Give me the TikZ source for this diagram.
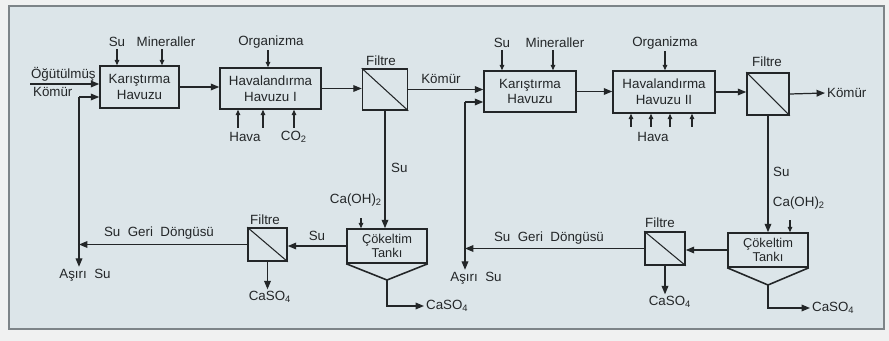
\documentclass[tikz,border=0pt]{standalone}
\usepackage{fontspec}
\setmainfont{Liberation Sans}
\usetikzlibrary{arrows.meta}
\definecolor{panel}{RGB}{220,229,233}
\definecolor{outer}{RGB}{240,241,241}
\definecolor{ink}{RGB}{35,38,40}
\definecolor{frameline}{RGB}{125,132,136}
\begin{document}
\begin{tikzpicture}[x=0.02cm,y=-0.02cm,
  font=\fontsize{7.6}{9}\selectfont, text=ink,
  box/.style={draw=ink, line width=0.9pt, align=center, inner sep=1pt},
  tankbox/.style={draw=ink, line width=0.9pt, align=center, inner sep=1pt, font=\fontsize{7.3}{8}\selectfont},
  outline/.style={draw=ink, line width=0.9pt, line join=miter},
  filt/.style={draw=ink, line width=0.9pt, inner sep=0pt},
  arr/.style={draw=ink, line width=0.7pt, -{Triangle[length=4.8pt,width=3.8pt]}},
  sarr/.style={draw=ink, line width=0.6pt, -{Triangle[length=3pt,width=2.6pt]}},
  ln/.style={draw=ink, line width=0.7pt},
  lbl/.style={inner sep=1pt},
]
% page and panel
\fill[outer] (0,0) rectangle (889,341);
\useasboundingbox (0,0) rectangle (889,341);
\filldraw[fill=panel, draw=frameline, line width=0.6pt] (9,6) rectangle (884,329);

% ---------- main boxes ----------
\node[box, minimum width=1.58cm, minimum height=0.84cm] (mix1) at (139.5,87) {Karıştırma\\Havuzu};
\node[box, minimum width=2.02cm, minimum height=0.82cm] (aer1) at (270.5,88.5) {Havalandırma\\Havuzu I};
\node[filt, minimum width=0.9cm, minimum height=0.82cm] (f1) at (385,89.5) {};
\node[box, minimum width=1.84cm, minimum height=0.82cm] (mix2) at (530,91.5) {Karıştırma\\Havuzu};
\node[box, minimum width=2.04cm, minimum height=0.84cm] (aer2) at (664,92) {Havalandırma\\Havuzu II};
\node[filt, minimum width=0.84cm, minimum height=0.84cm] (f3) at (768,94) {};
\node[tankbox, minimum width=1.6cm, minimum height=0.68cm] (tank1) at (387,246) {Çökeltim\\Tankı};
\node[filt, minimum width=0.78cm, minimum height=0.66cm] (f2) at (267.5,244.5) {};
\node[tankbox, minimum width=1.6cm, minimum height=0.68cm] (tank2) at (768,250) {Çökeltim\\Tankı};
\node[filt, minimum width=0.8cm, minimum height=0.66cm] (f4) at (665,248.5) {};

\foreach \f in {f1,f2,f3,f4} \draw[ink, line width=0.6pt] (\f.north west) -- (\f.south east);

\coordinate (t1tip) at (387,280);
\coordinate (t2tip) at (768,285);
\draw[outline] (tank1.south west) -- (t1tip) -- (tank1.south east);
\draw[outline] (tank2.south west) -- (t2tip) -- (tank2.south east);

% ---------- labels ----------
\node[lbl] (su1) at (117,42) {Su};
\node[lbl] (min1) at (166,42) {Mineraller};
\node[lbl] (org1) at (271,42) {Organizma};
\node[lbl] (su3) at (502,43) {Su};
\node[lbl] (min2) at (555,43) {Mineraller};
\node[lbl] (org2) at (665,43) {Organizma};
\node[lbl, anchor=west] (ogut) at (29,74) {Öğütülmüş};
\node[lbl, anchor=west] (komin) at (31,92) {Kömür};
\node[lbl] (kom1) at (441,79) {Kömür};
\node[lbl, anchor=west] (komout) at (825,93) {Kömür};
\node[lbl] (fl1) at (381,61) {Filtre};
\node[lbl] (fl3) at (767,62) {Filtre};
\node[lbl] (fl2) at (265,220) {Filtre};
\node[lbl] (fl4) at (660,223) {Filtre};
\node[lbl] (hava1) at (245,137) {Hava};
\node[lbl] (co2) at (294,137) {CO\textsubscript{2}};
\node[lbl] (hava2) at (653,137) {Hava};
\node[lbl, anchor=west] (sud1) at (389,168) {Su};
\node[lbl, anchor=west] (sud2) at (771,172) {Su};
\node[lbl] (caoh1) at (356,200) {Ca(OH)\textsubscript{2}};
\node[lbl] (caoh2) at (799,203) {Ca(OH)\textsubscript{2}};
\node[lbl] (suf) at (317,236) {Su};
\node[lbl] (sgd1) at (159,233) {Su\ \ Geri\ \ Döngüsü};
\node[lbl] (sgd2) at (549,238) {Su\ \ Geri\ \ Döngüsü};
\node[lbl] (as1) at (85,275) {Aşırı\ \ Su};
\node[lbl] (as2) at (476,278) {Aşırı\ \ Su};
\node[lbl] (cs2) at (270,297) {CaSO\textsubscript{4}};
\node[lbl] (cs4) at (670,302) {CaSO\textsubscript{4}};
\node[lbl, anchor=west] (cs1) at (424,306) {CaSO\textsubscript{4}};
\node[lbl, anchor=west] (cs3) at (810,308) {CaSO\textsubscript{4}};

% ---------- top small arrows ----------
\draw[sarr] (su1.south) -- (su1.south |- mix1.north);
\draw[sarr] ([xshift=-0.08cm]min1.south) -- ([xshift=-0.08cm]min1.south |- mix1.north);
\draw[sarr] ([xshift=-0.06cm]org1.south) -- ([xshift=-0.06cm]org1.south |- aer1.north);
\draw[sarr] (su3.south) -- (su3.south |- mix2.north);
\draw[sarr] ([xshift=-0.04cm]min2.south) -- ([xshift=-0.04cm]min2.south |- mix2.north);
\draw[sarr] (org2.south) -- (org2.south |- aer2.north);

% ---------- bottom air arrows ----------
\foreach \x in {238,263,294} {
  \coordinate (h) at (\x,128);
  \draw[sarr] (h) -- (h |- aer1.south);
}
\foreach \x in {631,651,670,692} {
  \coordinate (h) at (\x,127);
  \draw[sarr] (h) -- (h |- aer2.south);
}

% ---------- main flow ----------
\coordinate (in1) at (30,84);
\draw[arr] (in1) -- (in1 -| mix1.west);
\draw[arr] (mix1.east) -- (mix1.east -| aer1.west);
\draw[arr] (aer1.east) -- (aer1.east -| f1.west);
\draw[arr] (f1.east) -- (f1.east -| mix2.west);
\draw[arr] (mix2.east) -- (mix2.east -| aer2.west);
\draw[arr] (aer2.east) -- (aer2.east -| f3.west);
\draw[arr] (f3.east) -- (komout.west);

% filter to settling tanks
\draw[arr] (f1.south) -- (f1.south |- tank1.north);
\draw[arr] (f3.south) -- (f3.south |- tank2.north);

% Ca(OH)2 feeds
\coordinate (c1) at (361,218);
\draw[sarr] (c1) -- (c1 |- tank1.north);
\coordinate (c2) at (790,220);
\draw[sarr] (c2) -- (c2 |- tank2.north);

% tank -> filter
\draw[arr] (tank1.west) -- (tank1.west -| f2.east);
\draw[arr] (tank2.west) -- (tank2.west -| f4.east);

% recycle loop 1
\coordinate (j1) at (79,244.5);
\coordinate (j1top) at (79,97);
\draw[arr] (f2.west) -- (j1);
\draw[arr] (j1top) -- (j1top -| mix1.west);
\draw[arr] (j1top) -- (as1.north -| j1top);

% recycle loop 2
\coordinate (j2) at (465,248.5);
\coordinate (j2top) at (465,102);
\draw[arr] (f4.west) -- (j2);
\draw[arr] (j2top) -- (j2top -| mix2.west);
\draw[arr] (j2top) -- (as2.north -| j2top);

% CaSO4 outputs
\draw[arr] (f2.south) -- (f2.south |- cs2.north);
\draw[arr] (f4.south) -- (f4.south |- cs4.north);
\draw[arr] (t1tip) |- (cs1.west);
\draw[arr] (t2tip) |- (cs3.west);
\end{tikzpicture}
\end{document}
